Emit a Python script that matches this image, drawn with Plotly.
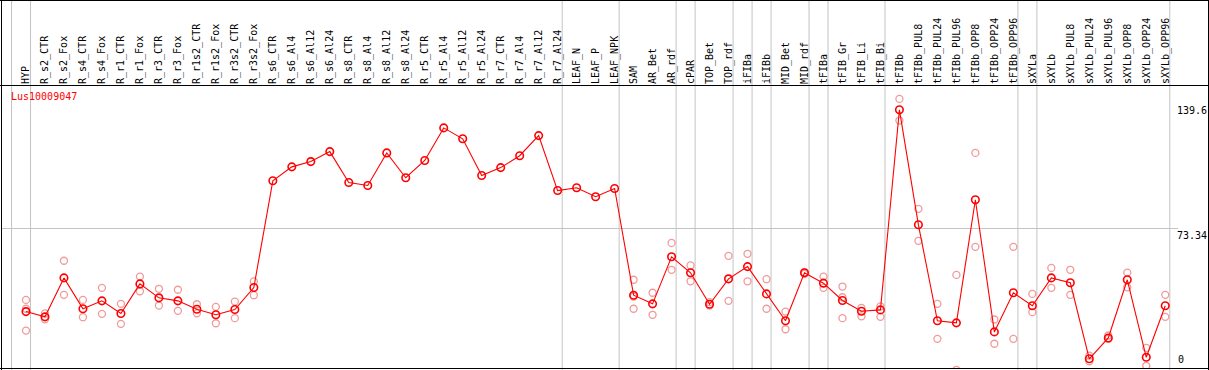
import plotly.graph_objects as go

samples = ["HYP", "R_s2_CTR", "R_s2_Fox", "R_s4_CTR", "R_s4_Fox", "R_r1_CTR", "R_r1_Fox",
           "R_r3_CTR", "R_r3_Fox", "R_r1s2_CTR", "R_r1s2_Fox", "R_r3s2_CTR", "R_r3s2_Fox",
           "R_s6_CTR", "R_s6_Al4", "R_s6_Al12", "R_s6_Al24", "R_s8_CTR", "R_s8_Al4",
           "R_s8_Al12", "R_s8_Al24", "R_r5_CTR", "R_r5_Al4", "R_r5_Al12", "R_r5_Al24",
           "R_r7_CTR", "R_r7_Al4", "R_r7_Al12", "R_r7_Al24", "LEAF_N", "LEAF_P", "LEAF_NPK",
           "SAM", "AR_Bet", "AR_rdf", "cPAR", "TOP_Bet", "TOP_rdf", "iFIBa", "iFIBb",
           "MID_Bet", "MID_rdf", "tFIBa", "tFIB_Gr", "tFIB_Li", "tFIB_Bi", "tFIBb",
           "tFIBb_PUL8", "tFIBb_PUL24", "tFIBb_PUL96", "tFIBb_OPP8", "tFIBb_OPP24",
           "tFIBb_OPP96", "sXYLa", "sXYLb", "sXYLb_PUL8", "sXYLb_PUL24", "sXYLb_PUL96",
           "sXYLb_OPP8", "sXYLb_OPP24", "sXYLb_OPP96"]

mean_values = [29.2, 26.4, 47.1, 30.7, 34.9, 28.2, 43.9, 36.5, 34.9, 30.4, 27.5, 30.3, 42.0,
               98.7, 106.1, 108.9, 114.2, 97.8, 96.2, 113.5, 100.3, 109.5, 126.8, 121.0, 101.5,
               105.7, 112.0, 122.7, 93.5, 95.0, 90.2, 94.6,
               37.9, 33.3, 58.3, 49.8, 33.1, 46.6, 53.1, 38.6, 24.3, 49.8, 44.3, 35.1, 29.4, 30.1,
               136.4, 75.3, 24.3, 23.2, 88.6, 18.4, 39.2, 32.3, 47.1, 44.5, 4.1, 15.2, 46.1, 4.9, 32.3]

rep1 = [35.4, 28.2, 56.2, 35.4, 41.8, 33.3, 47.8, 41.3, 40.8, 33.1, 31.7, 34.5, 45.2,
        None, None, None, None, None, None, None, None, None, None, None, None,
        None, None, None, None, None, None, None,
        46.1, 39.2, 65.7, 53.7, 34.2, 58.8, 59.9, 46.4, 29.2, 50.1, 47.8, 42.5, 31.2, 32.0,
        142.2, 83.8, 33.3, 48.7, 113.5, 25.0, 63.6, 38.6, 52.4, 51.4, 5.8, 16.5, 49.9, 9.9, 38.1]

rep2 = [30.7, 25.1, 38.1, 26.2, 28.0, 22.7, 40.0, 32.4, 29.6, 28.3, 23.0, 25.7, 37.9,
        None, None, None, None, None, None, None, None, None, None, None, None,
        None, None, None, None, None, None, None,
        37.2, 27.5, 51.4, 45.3, 32.4, 34.9, 45.3, 30.7, 19.8, 49.3, 41.8, 36.8, 26.7, 26.4,
        130.7, 66.8, 14.7, -1.8, 63.6, 12.1, 14.7, 28.9, 41.8, 38.1, 2.8, 14.7, 42.1, 0.4, 26.4]

rep3 = [19.1, None, None, None, None, None, None, None, None, None, None, None, None,
        None, None, None, None, None, None, None, None, None, None, None, None,
        None, None, None, None, None, None, None,
        30.7, None, None, None, None, None, None, None, None, None, None, 25.7, None, None,
        None, None, None, None, None, None, None, None, None, None, None, None, None, None, None]

group_ends = [-1, 0, 28, 31, 34, 35, 37, 38, 39, 41, 42, 45, 52, 53, 60]

y_ticks = [73.34, 139.6]
y_ticktext = ["73.34", "139.6"]
gene = "Lus10009047"

FONT = "DejaVu Sans Mono"
W, H = 1209, 370
ML, MR, MT, MB = 1, 39, 85, 2
PW, PH = W - ML - MR, H - MT - MB
X0, X1 = -1.3158, 60.25
Y0, Y1 = -0.78, 149.59


def px_to_paper_x(px):
    return (px - ML) / PW


def py_to_paper_y(py):
    return (H - MB - py) / PH


def data_to_paper_x(x):
    return (x - X0) / (X1 - X0)


fig = go.Figure()

rx, ry = [], []
for rep in (rep1, rep2, rep3):
    for i, v in enumerate(rep):
        if v is not None:
            rx.append(i)
            ry.append(v)

fig.add_trace(go.Scatter(
    x=rx, y=ry, mode="markers",
    marker=dict(symbol="circle-open", size=7, color="#F09A9A",
                line=dict(width=1.3, color="#F09A9A")),
    hoverinfo="skip", showlegend=False))

fig.add_trace(go.Scatter(
    x=list(range(len(samples))), y=mean_values, mode="lines+markers",
    line=dict(color="#FF0000", width=1.1),
    marker=dict(symbol="circle-open", size=7.5, color="#FF0000",
                line=dict(width=1.6, color="#FF0000")),
    showlegend=False))

shapes = []
for g in group_ends:
    xp = data_to_paper_x(g + 0.24)
    shapes.append(dict(type="line", xref="paper", yref="paper", x0=xp, x1=xp,
                       y0=py_to_paper_y(H), y1=py_to_paper_y(0),
                       line=dict(color="#C4C4C4", width=1), layer="below"))

shapes.append(dict(type="line", xref="paper", yref="y", x0=0, x1=px_to_paper_x(1178),
                   y0=73.34, y1=73.34, line=dict(color="#C4C4C4", width=1), layer="below"))

black = dict(color="#000000", width=1)
# frame lines
shapes.append(dict(type="line", xref="paper", yref="paper", x0=px_to_paper_x(0), x1=px_to_paper_x(W),
                   y0=py_to_paper_y(0.5), y1=py_to_paper_y(0.5), line=black))
shapes.append(dict(type="line", xref="paper", yref="paper", x0=px_to_paper_x(0), x1=px_to_paper_x(W),
                   y0=py_to_paper_y(85.5), y1=py_to_paper_y(85.5), line=black))
shapes.append(dict(type="line", xref="paper", yref="paper", x0=px_to_paper_x(0), x1=px_to_paper_x(W),
                   y0=py_to_paper_y(368.5), y1=py_to_paper_y(368.5), line=black))
shapes.append(dict(type="line", xref="paper", yref="paper", x0=px_to_paper_x(1.5), x1=px_to_paper_x(1.5),
                   y0=py_to_paper_y(0), y1=py_to_paper_y(H), line=black))
shapes.append(dict(type="line", xref="paper", yref="paper", x0=px_to_paper_x(1208.5), x1=px_to_paper_x(1208.5),
                   y0=py_to_paper_y(0), y1=py_to_paper_y(H), line=black))

annotations = [
    dict(text=gene, xref="paper", yref="paper", x=px_to_paper_x(9), y=py_to_paper_y(97),
         xanchor="left", yanchor="middle", showarrow=False,
         font=dict(family=FONT, size=10, color="#FF0000")),
    dict(text="0", xref="paper", yref="paper", x=1, y=0, xshift=6, yshift=1,
         xanchor="left", yanchor="bottom", showarrow=False,
         font=dict(family=FONT, size=10, color="#000000")),
]

fig.update_layout(
    width=W, height=H,
    margin=dict(l=ML, r=MR, t=MT, b=MB, pad=0),
    paper_bgcolor="white", plot_bgcolor="white",
    font=dict(family=FONT, size=10, color="#000000"),
    shapes=shapes, annotations=annotations,
    xaxis=dict(range=[X0, X1], tickmode="array", tickvals=list(range(len(samples))),
               ticktext=samples, side="top", tickangle=-90, ticks="",
               showgrid=False, zeroline=False, showline=False,
               tickfont=dict(family=FONT, size=10, color="#000000")),
    yaxis=dict(range=[Y0, Y1], tickmode="array", tickvals=y_ticks, ticktext=y_ticktext,
               side="right", ticks="", ticklabelposition="outside bottom",
               ticklabelstandoff=6,
               showgrid=False, zeroline=False, showline=False,
               tickfont=dict(family=FONT, size=10, color="#000000")),
    hovermode="closest",
)

fig.write_html("out.html", config={"displayModeBar": False},
               post_script="document.body.style.margin='0';document.body.style.overflow='hidden';")
